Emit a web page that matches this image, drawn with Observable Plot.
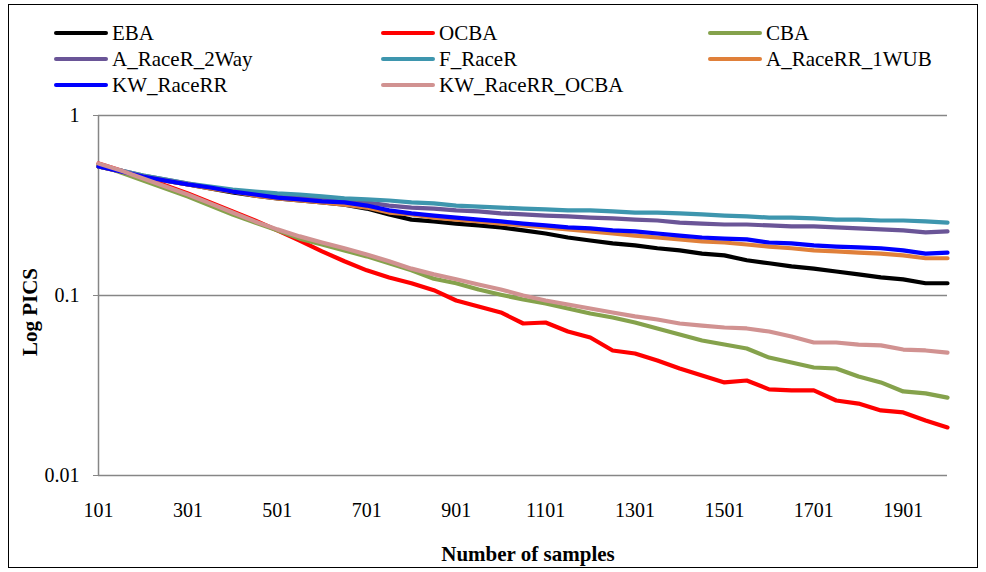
<!DOCTYPE html>
<html>
<head>
<meta charset="utf-8">
<script src="https://cdn.jsdelivr.net/npm/d3@7"></script>
<script src="https://cdn.jsdelivr.net/npm/@observablehq/plot@0.6"></script>
<style>
  html, body { margin: 0; padding: 0; background: #fff; }
  #wrap { position: relative; width: 986px; height: 572px; font-family: "Liberation Serif", "Times New Roman", serif; color: #000; }
  #chart { position: absolute; left: 0; top: 0; }
  #border { position: absolute; left: 8px; top: 4px; width: 970px; height: 564px; border: 1.5px solid #000; box-sizing: border-box; pointer-events: none; }
  .leg { position: absolute; height: 24px; display: flex; align-items: center; font-size: 21px; white-space: nowrap; }
  .leg .sw { width: 54px; height: 4px; border-radius: 2px; margin-right: 4px; }
  .title { position: absolute; font-weight: bold; font-size: 21px; white-space: nowrap; }
</style>
</head>
<body>
<div id="wrap">
  <div id="chart"></div>
  <div id="legend"></div>
  <div class="title" id="ytitle" style="left:30px; top:312px; transform: translate(-50%,-50%) rotate(-90deg);">Log PICS</div>
  <div class="title" id="xtitle" style="left:528px; top:554px; transform: translate(-50%,-50%);">Number of samples</div>
  <div id="border"></div>
</div>
<script>
// Sample positions (number of samples)
const samples = [101,151,201,251,301,351,401,451,501,551,601,651,701,751,801,851,901,951,1001,1051,1101,1151,1201,1251,1301,1351,1401,1451,1501,1551,1601,1651,1701,1751,1801,1851,1901,1951,2000];

const seriesNames = ["EBA","OCBA","CBA","A_RaceR_2Way","F_RaceR","A_RaceRR_1WUB","KW_RaceRR","KW_RaceRR_OCBA"];
const seriesColors = ["#000000","#ff0000","#85a24c","#6a5597","#3e96ae","#e0803a","#0000ff","#d19291"];

const EBA = [0.521,0.489,0.458,0.435,0.414,0.393,0.374,0.359,0.346,0.337,0.329,0.320,0.304,0.282,0.264,0.258,0.251,0.245,0.239,0.230,0.221,0.210,0.202,0.195,0.190,0.183,0.178,0.171,0.167,0.157,0.151,0.145,0.141,0.136,0.131,0.126,0.123,0.117,0.117];
const OCBA = [0.541,0.495,0.452,0.408,0.369,0.329,0.293,0.261,0.230,0.202,0.176,0.155,0.138,0.126,0.117,0.107,0.0938,0.0869,0.0805,0.0699,0.0708,0.0631,0.0584,0.0495,0.0476,0.0435,0.0393,0.0359,0.0329,0.0337,0.0301,0.0297,0.0297,0.0261,0.0251,0.0230,0.0224,0.0202,0.0185];
const CBA = [0.534,0.482,0.435,0.393,0.355,0.316,0.282,0.254,0.230,0.207,0.192,0.178,0.165,0.151,0.138,0.124,0.117,0.108,0.101,0.0950,0.0903,0.0847,0.0794,0.0755,0.0708,0.0656,0.0607,0.0562,0.0534,0.0508,0.0452,0.0424,0.0398,0.0393,0.0355,0.0329,0.0293,0.0286,0.0271];
const A_RaceR_2Way = [0.521,0.495,0.464,0.441,0.419,0.398,0.383,0.369,0.359,0.350,0.342,0.337,0.329,0.316,0.308,0.304,0.297,0.293,0.286,0.282,0.278,0.275,0.271,0.268,0.264,0.261,0.254,0.251,0.248,0.248,0.245,0.242,0.242,0.239,0.236,0.233,0.230,0.224,0.227];
const F_RaceR = [0.521,0.495,0.464,0.441,0.419,0.403,0.388,0.378,0.369,0.364,0.355,0.346,0.342,0.337,0.329,0.325,0.316,0.312,0.308,0.304,0.301,0.297,0.297,0.293,0.289,0.289,0.286,0.282,0.278,0.275,0.271,0.271,0.268,0.264,0.264,0.261,0.261,0.258,0.254];
const A_RaceRR_1WUB = [0.521,0.489,0.458,0.435,0.414,0.393,0.378,0.359,0.346,0.337,0.329,0.320,0.308,0.289,0.282,0.271,0.264,0.258,0.251,0.245,0.239,0.233,0.227,0.221,0.215,0.210,0.205,0.200,0.197,0.192,0.187,0.183,0.178,0.176,0.173,0.171,0.167,0.161,0.161];
const KW_RaceRR = [0.521,0.489,0.458,0.435,0.414,0.398,0.378,0.364,0.350,0.342,0.333,0.329,0.316,0.297,0.286,0.278,0.271,0.264,0.258,0.251,0.245,0.239,0.236,0.230,0.227,0.221,0.215,0.210,0.207,0.205,0.197,0.195,0.190,0.187,0.185,0.183,0.178,0.171,0.173];
const KW_RaceRR_OCBA = [0.541,0.495,0.447,0.403,0.364,0.325,0.289,0.258,0.233,0.213,0.197,0.183,0.169,0.155,0.141,0.131,0.123,0.115,0.108,0.100,0.0938,0.0891,0.0847,0.0805,0.0765,0.0736,0.0699,0.0681,0.0664,0.0656,0.0631,0.0592,0.0548,0.0548,0.0534,0.0528,0.0501,0.0495,0.0482];

const xTicks = [101,301,501,701,901,1101,1301,1501,1701,1901];
const yTicks = [1,0.1,0.01];

const seriesValues = [EBA, OCBA, CBA, A_RaceR_2Way, F_RaceR, A_RaceRR_1WUB, KW_RaceRR, KW_RaceRR_OCBA];

const gridColor = "#868686";

const lineMarks = seriesNames.map((name, si) => {
  const rows = samples.map((x, i) => ({x, y: seriesValues[si][i], s: name}));
  return Plot.line(rows, {x: "x", y: "y", stroke: seriesColors[si], strokeWidth: 4.2, strokeLinejoin: "round", strokeLinecap: "round"});
});

const chart = Plot.plot({
  width: 986,
  height: 572,
  marginLeft: 98,
  marginRight: 39,
  marginTop: 115,
  marginBottom: 97,
  style: {fontFamily: "'Liberation Serif', 'Times New Roman', serif", fontSize: "20px", background: "transparent", color: "#000"},
  x: {domain: [101, 2000]},
  y: {type: "log", domain: [0.01, 1]},
  marks: [
    Plot.ruleY([1, 0.1], {stroke: gridColor, strokeWidth: 1.5}),
    Plot.ruleY([0.01], {stroke: gridColor, strokeWidth: 1.5, dx: 0}),
    Plot.ruleX([101], {stroke: gridColor, strokeWidth: 1.5}),
    Plot.axisY({ticks: yTicks, tickFormat: d => String(d), tickSize: 5, tickPadding: 14, stroke: gridColor, fill: "#000", label: null, fontSize: 20}),
    Plot.axisX({ticks: xTicks, tickFormat: d => String(d), tickSize: 0, tickPadding: 27, fill: "#000", label: null, fontSize: 20}),
    ...lineMarks
  ]
});
document.getElementById("chart").appendChild(chart);

// Legend (3 columns, row-major)
const legCols = [54, 381, 708];
const legRows = [33, 59, 85];
const legend = document.getElementById("legend");
seriesNames.forEach((name, i) => {
  const col = i % 3, row = Math.floor(i / 3);
  const d = document.createElement("div");
  d.className = "leg";
  d.style.left = legCols[col] + "px";
  d.style.top = (legRows[row] - 12) + "px";
  const sw = document.createElement("div");
  sw.className = "sw";
  sw.style.background = seriesColors[i];
  const t = document.createElement("span");
  t.textContent = name;
  d.appendChild(sw);
  d.appendChild(t);
  legend.appendChild(d);
});
</script>
</body>
</html>
